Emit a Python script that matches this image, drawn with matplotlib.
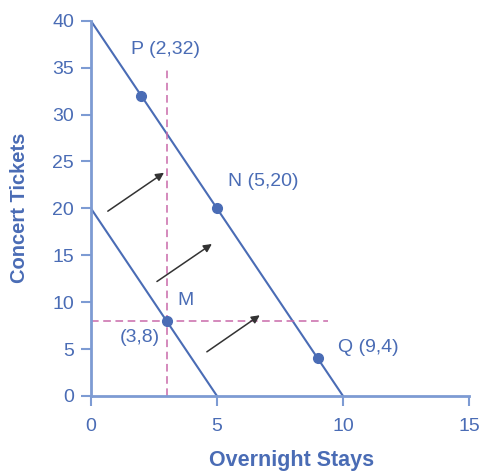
import matplotlib.pyplot as plt

# budget constraints
low_x = [0, 5]
low_y = [20, 0]
high_x = [0, 10]
high_y = [40, 0]

# labelled points
pt_names = ["P (2,32)", "N (5,20)", "Q (9,4)", "M"]
pt_x = [2, 5, 9, 3]
pt_y = [32, 20, 4, 8]

# arrows (tail -> head)
arrows = [((0.67, 19.7), (2.9, 23.8)),
          ((2.62, 12.2), (4.8, 16.2)),
          ((4.6, 4.7), (6.7, 8.6))]

blue = "#4a6cb5"
axcol = "#7d9bd3"
pink = "#c96aaa"

plt.rcParams['font.family'] = ['Liberation Sans', 'DejaVu Sans']

fig = plt.figure(figsize=(4.81, 4.73), dpi=100)
ax = fig.add_axes([0.189, 0.163, 0.786, 0.793])

ax.plot(low_x, low_y, color=blue, lw=1.5)
ax.plot(high_x, high_y, color=blue, lw=1.5)

ax.plot([3, 3], [0, 35], color=pink, lw=1.1, ls=(0, (5, 3)))
ax.plot([0, 9.4], [8, 8], color=pink, lw=1.1, ls=(0, (5, 3)))

ax.plot(pt_x, pt_y, 'o', color=blue, ms=7, zorder=5)

fs = 14
ax.text(2.94, 36.9, pt_names[0], color=blue, fontsize=fs, ha='center', va='center')
ax.text(5.45, 22.9, pt_names[1], color=blue, fontsize=fs, ha='left', va='center')
ax.text(9.8, 5.2, pt_names[2], color=blue, fontsize=fs, ha='left', va='center')
ax.text(3.42, 10.2, pt_names[3], color=blue, fontsize=fs, ha='left', va='center')
ax.text(2.74, 6.2, "(3,8)", color=blue, fontsize=fs, ha='right', va='center')

for (x0, y0), (x1, y1) in arrows:
    ax.annotate("", xy=(x1, y1), xytext=(x0, y0),
                arrowprops=dict(arrowstyle='-|>', color='#333333', lw=1.1,
                                mutation_scale=12, shrinkA=0, shrinkB=0))

ax.set_xlim(0, 15)
ax.set_ylim(0, 40)
ax.set_xticks([0, 5, 10, 15])
ax.set_yticks(range(0, 41, 5))
for s in ['top', 'right']:
    ax.spines[s].set_visible(False)
for s in ['left', 'bottom']:
    ax.spines[s].set_color(axcol)
    ax.spines[s].set_linewidth(2)
ax.tick_params(colors=axcol, labelcolor=blue, labelsize=14, width=1.5, length=7)
ax.tick_params(axis='y', pad=5)
ax.tick_params(axis='x', pad=9)

fig.text(292 / 481, 1 - 460 / 473, "Overnight Stays", color=blue, fontsize=15.5,
         fontweight='bold', ha='center', va='center')
fig.text(20 / 481, 1 - 208 / 473, "Concert Tickets", color=blue, fontsize=14.5,
         fontweight='bold', ha='center', va='center', rotation=90)

fig.savefig("out.png", dpi=100)
